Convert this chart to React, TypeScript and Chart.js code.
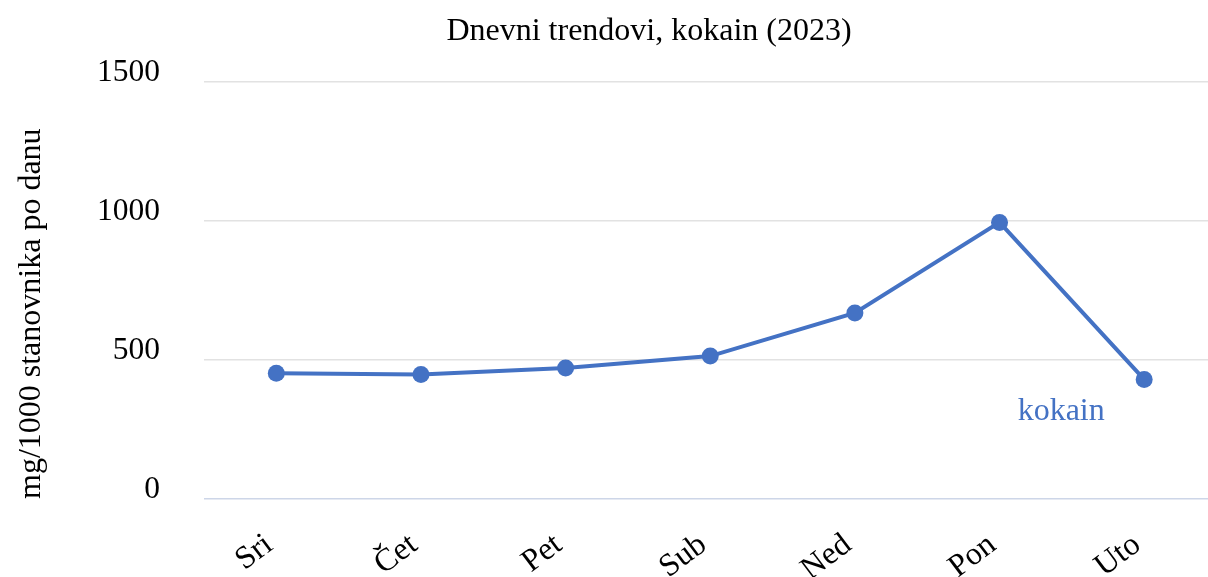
import React, { useEffect, useRef } from "react";
import { Chart, registerables } from "chart.js";

Chart.register(...registerables);

const categories = ["Sri", "Čet", "Pet", "Sub", "Ned", "Pon", "Uto"];
const kokainValues = [452, 448, 471, 514, 669, 995, 430];
const yTicks = [0, 500, 1000, 1500];
const seriesName = "kokain";
const chartTitle = "Dnevni trendovi, kokain (2023)";
const yAxisTitle = "mg/1000 stanovnika po danu";

const FONT = '"Liberation Serif", "Times New Roman", serif';
const BLUE = "#4472C4";

export default function App() {
  const ref = useRef<HTMLCanvasElement>(null);

  useEffect(() => {
    const canvas = ref.current;
    if (!canvas) return;

    const textPlugin = {
      id: "customText",
      afterDraw(chart: any) {
        const ctx = chart.ctx;
        ctx.save();
        ctx.fillStyle = "#000";
        ctx.font = `32px ${FONT}`;
        ctx.textAlign = "center";
        ctx.textBaseline = "alphabetic";
        ctx.fillText(chartTitle, 649, 40);
        const meta = chart.getDatasetMeta(0);
        const last = meta.data[meta.data.length - 1];
        ctx.fillStyle = BLUE;
        ctx.fillText(seriesName, last.x - 83, last.y + 41);
        ctx.restore();
      },
    };

    const chart = new Chart(canvas, {
      type: "line",
      data: {
        labels: categories,
        datasets: [
          {
            label: seriesName,
            data: kokainValues,
            borderColor: BLUE,
            backgroundColor: BLUE,
            borderWidth: 4,
            tension: 0,
            pointRadius: 8.5,
            pointHoverRadius: 8.5,
            pointBorderWidth: 0,
            pointBackgroundColor: BLUE,
          },
        ],
      },
      options: {
        animation: false,
        responsive: false,
        devicePixelRatio: 1,
        layout: { padding: { top: 82, left: 0, right: 0, bottom: 0 } },
        plugins: {
          legend: { display: false },
          title: { display: false },
          tooltip: { enabled: false },
        },
        scales: {
          x: {
            offset: true,
            grid: { display: false, drawTicks: false },
            border: { display: false },
            ticks: {
              font: { family: FONT, size: 32 },
              color: "#000",
              minRotation: 37,
              maxRotation: 37,
              padding: 27,
              labelOffset: -7,
              autoSkip: false,
            },
            afterFit: (s: any) => {
              s.height = 78;
            },
          },
          y: {
            min: 0,
            max: 1500,
            afterBuildTicks: (s: any) => {
              s.ticks = yTicks.map((v) => ({ value: v }));
            },
            grid: {
              color: (c: any) =>
                c.tick && c.tick.value === 0 ? "#cdd6e8" : "#e2e2e2",
              lineWidth: 1.5,
              drawTicks: false,
            },
            border: { display: false },
            ticks: {
              font: { family: FONT, size: 31.5 },
              color: "#000",
              padding: 44,
              labelOffset: -9,
              callback: (v: any) => String(v),
            },
            title: {
              display: true,
              text: yAxisTitle,
              align: "start",
              font: { family: FONT, size: 32 },
              color: "#000",
              padding: { top: 12, bottom: 0 },
            },
            afterFit: (s: any) => {
              s.width = 204;
            },
          },
        },
      },
      plugins: [textPlugin],
    } as any);

    return () => chart.destroy();
  }, []);

  return (
    <div
      style={{
        position: "fixed",
        left: 0,
        top: 0,
        width: 1208,
        height: 577,
        overflow: "hidden",
        background: "#fff",
      }}
    >
      <canvas
        ref={ref}
        width={1225}
        height={577}
        style={{ display: "block", width: 1225, height: 577 }}
      />
    </div>
  );
}
